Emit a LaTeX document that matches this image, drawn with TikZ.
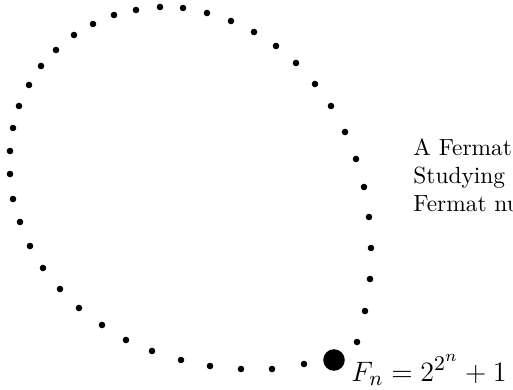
\documentclass[tikz,border=0pt]{standalone}
\begin{document}
\begin{tikzpicture}[x=0.4274pt,y=-0.4274pt,
  smalldot/.style={fill=black},
  txt/.style={anchor=base west, inner sep=0pt, font=\normalsize}]
\useasboundingbox (0,0) rectangle (513,389);
\foreach \a/\b in {160/7,183/8,207/13,231/21,254/32,276/46,296/63,315/84,331/106,345/132,356/159,364/187,369/217,371/248,370/279,365/311,357/342,304/364,272/369,241/369,210/366,181/360,152/351,126/340,102/325,79/308,60/289,43/268,30/246,20/222,13/199,10/174,10/151,13/128,19/106,29/85,41/66,56/50,74/35,93/24,114/15,136/10}
  \fill[smalldot] (\a,\b) circle[radius=1.41pt];
\node[circle, fill=black, inner sep=0pt, minimum size=9.2pt] (F) at (334,360) {};
\node[anchor=base west, inner sep=0pt, font=\fontsize{13.1}{15}\selectfont] (lab) at (351,381) {$F_n = 2^{2^n}+1$};
\node[txt] (t1) at (413,155) {A Fermat};
\node[txt] (t2) at (413,183) {Studying};
\node[txt] (t3) at (413,211) {Fermat nu};
\end{tikzpicture}
\end{document}
